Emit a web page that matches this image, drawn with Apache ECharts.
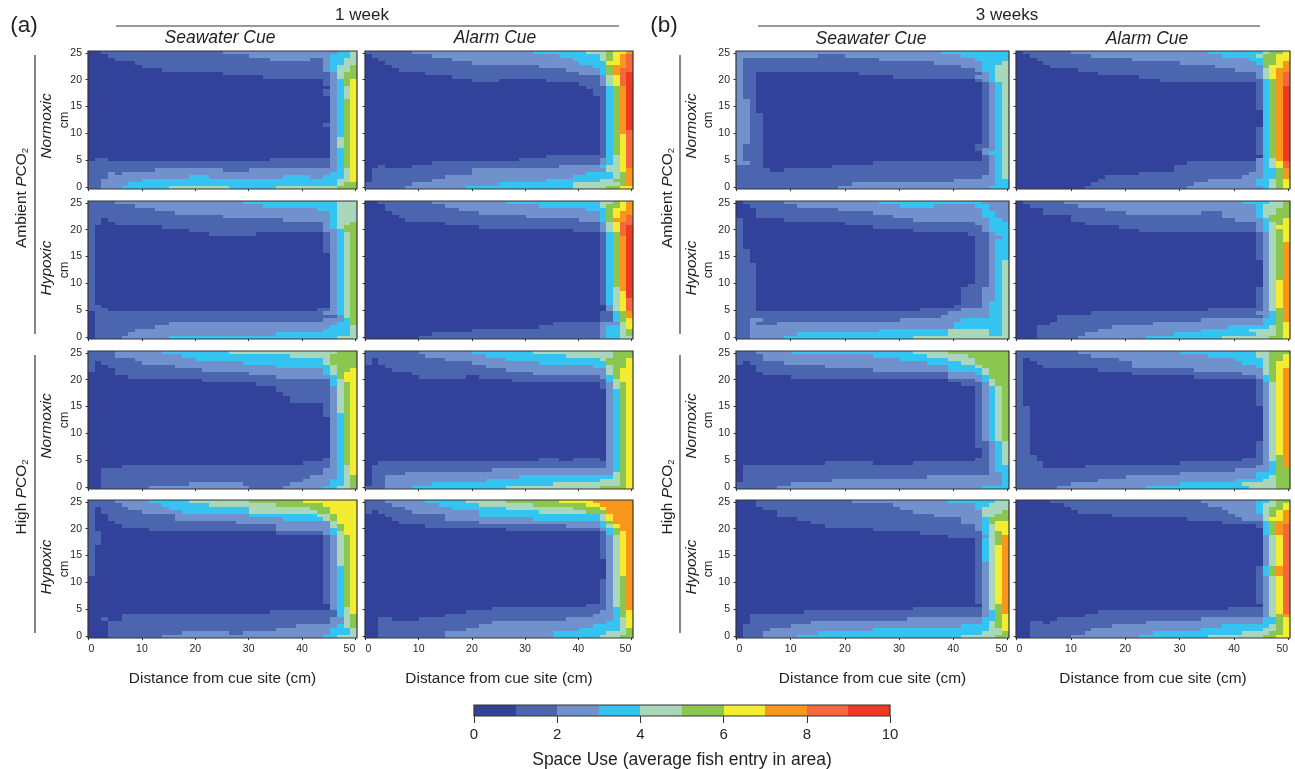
<!DOCTYPE html>
<html>
<head>
<meta charset="utf-8">
<style>html,body{margin:0;padding:0;background:#fff}#main{width:1295px;height:769px}</style>
<script src="https://cdn.jsdelivr.net/npm/echarts@6/dist/echarts.min.js"></script>
</head>
<body>
<div id="main"></div>
<script>
// each row, top to bottom: "bin:endColumn ..." runs over 40 columns, *n repeats the row
const a1Amb_Nor_Sea = ["0:2 1:20 2:37 3:39 4","0:3 1:24 2:36 3:39 4","0:4 1:27 2:33 1:35 2:36 3:38 4","0:7 1:35 2:36 3:38 4","0:8 1:35 2:36 3:37 4:39 5","0:11 1:35 2:36 3:37 4:39 5","0:20 1:36 2:37 4:38 5","0:26 1:36 2:37 4:38 5","0:35 1:36 2:37 3:38 5:39 6","0:35 1:36 2:37 3:38 5:39 6","0:36 2:37 3:38 4:39 6","0:35 1:36 2:37 3:38 4:39 6*2","0:36 2:37 3:38 4:39 6","0:36 2:37 3:38 5:39 6*7","0:35 1:36 2:37 3:38 5:39 6","0:36 2:37 3:38 5:39 6*3","0:36 2:37 4:38 5:39 6*3","0:36 2:37 3:38 5:39 6*3","0:1 1:3 0:27 1:36 2:37 3:38 5:39 6","1:36 2:37 3:38 5:39 6*2","1:10 2:20 1:24 2:37 3:38 4:39 6","1:3 2:4 1:5 2:36 3:38 4:39 6","1:3 2:15 3:18 2:29 3:33 2:35 3:38 4:39 6","1:2 2:8 3:37 4:39 6","1:2 2:6 3:37 4:38 5","1:2 2:5 3:12 4:21 3:28 4:37 5"];
const a2Amb_Nor_Alarm = ["1:7 2:25 3:33 4:36 5:37 6:39 7","0:1 1:10 2:29 3:35 4:36 5:37 6:38 7:39 8","0:2 1:13 2:31 3:35 4:36 5:37 6:38 7:39 8","0:3 1:16 2:32 3:36 6:38 7:39 8","0:4 1:26 2:34 3:36 5:37 7:39 8","0:5 1:30 2:35 3:36 5:37 7:38 8","0:9 1:32 2:35 3:36 5:37 7:38 8:39 9","0:13 1:35 2:36 4:37 6:38 8:39 9","0:16 1:20 0:27 1:35 2:36 4:37 6:38 8:39 9","0:32 1:35 2:36 4:37 6:38 8:39 9","0:33 1:36 3:37 5:38 7:39 9","0:34 1:36 3:37 5:38 7:39 9","0:34 1:36 3:37 5:38 7:39 9","0:35 1:36 3:37 5:38 7:39 9*10","0:35 1:36 3:37 5:38 7:39 8","0:35 1:36 3:37 5:38 6:39 8*6","0:27 1:36 3:37 4:38 6:39 8","0:23 1:35 2:36 3:37 4:38 6:39 8","0:10 1:35 2:36 3:37 4:38 6:39 8","0:2 1:3 0:7 1:29 2:35 3:36 4:38 6:39 8","0:1 1:16 2:36 4:38 6:39 7","0:1 1:16 2:33 3:37 4:38 5:39 7","0:1 1:12 2:31 3:37 4:38 5:39 7","0:1 1:10 2:27 3:35 4:37 5:39 7","1:7 2:20 3:31 4:38 5:39 7","1:6 2:15 3:31 4:36 5:38 6"];
const a3Amb_Hyp_Sea = ["1:4 2:23 3:37 4","1:7 2:26 3:37 4","1:10 2:34 3:37 4","1:13 2:36 3:37 4","1:20 2:36 3:37 4","1:2 0:3 1:29 2:36 3:37 4","1:2 0:4 1:35 2:36 3:37 4:39 5","1:1 0:11 1:35 2:36 3:37 4:38 5","1:1 0:15 1:35 2:37 3:38 5","1:1 0:18 1:25 0:35 1:36 2:37 3:38 4:39 5","1:1 0:35 1:36 2:37 3:38 4:39 5*5","1:1 0:36 2:37 3:38 4:39 5*15","1:2 0:36 2:37 3:38 4:39 5","1:3 0:34 1:36 2:37 3:38 4:39 5","0:1 1:35 2:37 3:38 4:39 5","0:1 1:37 2:38 4:39 5","0:1 1:35 2:38 3:39 5","0:1 1:12 2:37 3:39 5","0:1 1:10 2:36 3:39 4","0:1 1:7 2:35 3:39 4","0:1 1:6 2:28 3:39 4","0:1 1:5 2:12 3:37 4"];
const a4Amb_Hyp_Alarm = ["0:2 1:10 2:21 3:35 4:37 5:38 6:39 7","0:3 1:12 2:26 3:35 4:36 5:38 6:39 7","0:3 1:14 2:33 3:36 5:37 6:39 7","0:4 1:17 2:35 3:36 5:37 6:38 7","0:5 1:24 2:35 3:36 5:37 6:38 7:39 8","0:6 1:32 2:35 3:36 5:37 7:39 8","0:12 1:35 2:36 4:37 6:38 8","0:17 1:35 2:36 4:37 6:38 8:39 9","0:31 1:35 2:36 4:37 6:38 8:39 9","0:35 1:36 3:37 5:38 8:39 9","0:35 1:36 3:37 5:38 7:39 9*15","0:35 1:36 3:37 4:38 7:39 9","0:35 1:36 3:37 4:38 6:39 9*2","0:35 1:36 3:37 4:38 6:39 8*2","0:36 2:37 4:38 6:39 8*2","0:35 1:37 3:38 5:39 7*2","0:35 1:37 3:38 5:39 6","0:28 1:35 2:38 4:39 6","0:26 1:35 2:36 3:38 4:39 6","0:16 1:35 2:36 3:38 4:39 5","0:10 1:35 2:36 3:38 4:39 5","0:8 1:35 2:36 3:38 4"];
const a5High_Nor_Sea = ["1:4 2:11 3:21 4:37 5","1:4 2:14 3:30 4:36 5","1:7 2:16 3:35 4:36 5","1:1 0:2 1:8 2:23 3:35 4:36 5","1:1 0:3 1:13 2:28 3:36 4:37 5","1:1 0:4 1:17 2:35 3:36 4:37 5:39 6","0:4 1:24 2:35 3:36 4:37 5:38 6","0:6 1:28 2:36 3:37 5:38 6","0:17 1:36 3:37 4:38 6","0:25 1:36 3:37 4:38 5:39 6","0:28 1:36 2:37 4:38 5:39 6","0:28 1:36 2:37 4:38 5:39 6","0:29 1:36 2:37 4:38 5:39 6","0:30 1:36 2:37 4:38 5:39 6*2","0:35 1:36 2:37 4:38 5:39 6*3","0:35 1:36 2:37 3:38 5:39 6","0:36 2:37 3:38 5:39 6*12","0:35 1:36 2:37 3:38 5:39 6","0:32 1:36 2:37 3:38 5:39 6","0:5 1:36 2:37 3:38 4:39 6","0:2 1:35 2:37 3:38 4:39 6","0:2 1:35 2:37 3:38 4:39 6","0:2 1:33 2:37 3:38 4:39 5","0:2 1:32 2:36 3:38 4:39 5","0:2 1:15 2:23 1:30 2:36 3:38 4:39 5","0:2 1:9 2:24 1:29 2:35 3:37 4:39 5"];
const a6High_Nor_Alarm = ["1:8 2:16 3:25 4:37 5","1:9 2:18 3:30 4:37 5","1:1 0:2 1:12 2:21 3:35 4:36 5:39 6","1:1 0:2 1:16 2:26 3:36 5:39 6","0:3 1:18 2:34 3:36 4:37 5:39 6","0:4 1:21 2:36 4:37 5:38 6","0:7 1:25 2:36 4:37 5:38 6","0:8 1:15 0:17 1:35 2:36 3:37 5:38 6","0:22 1:36 3:37 4:38 6","0:35 1:36 2:37 4:38 5:39 6","0:35 1:36 2:37 4:38 5:39 6","0:36 2:37 3:38 5:39 6*20","0:26 1:29 0:31 1:35 0:36 2:37 3:38 5:39 6","0:2 1:36 2:37 3:38 5:39 6","0:1 1:36 2:37 3:38 5:39 6","0:1 1:19 2:37 3:38 5:39 6","0:1 1:6 2:37 4:38 5:39 6","0:1 1:3 2:23 3:37 4:38 5:39 6","0:1 1:3 2:18 3:35 4:38 5:39 6","0:1 1:3 2:10 3:28 4:38 5:39 6","1:3 2:7 3:21 4:35 5:39 6"];
const a7High_Hyp_Sea = ["1:4 2:9 3:15 4:24 5:32 6","1:5 2:11 3:18 4:28 5:35 6","1:1 0:2 1:6 2:12 3:24 4:33 5:36 6","1:1 0:2 1:8 2:14 3:24 4:34 5:36 6","1:1 0:3 1:13 2:24 3:34 4:36 5:37 6","1:1 0:3 1:13 2:29 3:35 4:36 5:37 6","1:1 0:4 1:22 2:36 4:37 6","1:1 0:5 1:28 2:36 4:37 5:38 6","1:1 0:9 1:28 2:36 3:37 5:38 6","1:2 0:28 1:35 2:36 3:37 4:38 6","1:2 0:35 1:36 2:37 4:38 5:39 6*3","1:1 0:35 1:36 2:37 4:38 5:39 6*6","1:1 0:35 1:36 2:37 3:38 5:39 6*3","0:35 1:36 2:37 3:38 5:39 6*8","0:36 2:37 3:38 5:39 6","0:36 2:37 3:38 4:39 6","0:27 1:37 3:38 4:39 6","0:5 1:37 3:38 4:39 5","0:2 1:3 0:5 1:36 2:38 4:39 5","0:3 1:36 2:38 4:39 5","0:3 1:31 2:37 3:38 4:39 5","0:3 1:28 2:36 3:39 4","0:3 1:14 2:21 1:23 2:36 3:39 4","0:3 1:11 2:35 3:37 4"];
const a8High_Hyp_Alarm = ["1:3 2:9 3:15 4:21 5:29 6:34 7","1:4 2:11 3:17 4:25 5:33 6:35 7","1:6 2:13 3:21 4:31 5:35 6:36 7","1:1 0:2 1:7 2:17 3:26 4:33 5:36 7","0:3 1:12 2:17 3:35 4:36 6:37 7","0:4 1:12 2:25 3:35 4:36 6:37 7","0:5 1:17 2:35 3:36 5:37 7","0:9 1:30 2:35 3:36 4:37 6:38 7","0:21 1:35 2:36 3:37 5:38 7","0:35 1:36 3:37 5:38 6:39 7","0:35 1:36 2:37 4:38 6:39 7*7","0:36 2:37 4:38 6:39 7*5","0:36 2:37 4:38 5:39 7","0:35 1:36 2:37 4:38 5:39 7*7","0:33 1:36 2:37 4:38 5:39 7","0:19 1:36 2:37 3:38 5:39 7","0:15 1:35 2:37 3:38 5:39 6","0:12 1:34 2:37 3:38 5:39 6","0:2 1:4 0:8 1:30 2:37 3:38 4:39 6","0:2 1:19 2:36 3:38 4:39 6","0:2 1:17 2:34 3:38 4:39 6","0:2 1:15 2:32 3:38 4:39 5","0:2 1:12 2:28 3:36 4:39 5","0:2 1:12 2:28 3:35 4:38 5"];
const b1Amb_Nor_Sea = ["2:30 3","2:12 1:16 2:33 3","2:1 1:21 2:35 3","2:1 1:29 2:36 3:39 4","2:1 1:33 2:36 3:38 4","2:1 1:35 2:36 3:38 4","2:1 1:3 0:18 1:36 2:37 3:38 4","2:1 1:3 0:23 1:35 2:37 3:38 4","2:1 1:3 0:35 1:36 2:37 3:38 4","2:1 1:3 0:36 1:37 2:38 3:39 4*5","2:2 1:3 0:36 1:37 2:38 3:39 4*4","2:2 1:4 0:36 1:37 2:38 3:39 4*9","2:1 1:4 0:35 1:37 2:38 3:39 4","2:1 1:4 0:35 1:36 2:38 3:39 4","2:1 1:4 0:36 2:37 3:39 4","2:1 1:4 0:36 1:37 2:38 3:39 4*2","2:2 1:4 0:20 1:37 2:38 3:39 4","1:4 0:14 1:37 2:38 3:39 4","1:5 0:7 1:37 2:38 3:39 4","1:37 2:38 3:39 4","1:36 2:38 3:39 4","1:32 2:38 3","1:17 2:38 3","1:15 2:37 3"];
const b2Amb_Nor_Alarm = ["0:1 1:8 2:28 3:36 4:37 5:39 6","0:2 1:11 2:30 3:35 4:36 5:38 6","0:3 1:17 2:34 3:36 5:38 6","0:4 1:24 2:35 3:36 5:38 6:39 7","0:5 1:29 2:36 5:37 6:39 7","0:9 1:32 2:36 4:37 6:38 7","0:12 1:35 2:36 4:37 6:38 7:39 8","0:18 1:35 2:36 4:37 6:38 7:39 8","0:21 1:36 3:37 5:38 7:39 8","0:35 1:36 3:37 5:38 7:39 8","0:35 1:36 3:37 5:38 7:39 9*7","0:36 3:37 5:38 7:39 9*5","0:35 1:36 3:37 5:38 7:39 9*8","0:36 3:37 5:38 7:39 9","0:35 2:36 3:37 4:38 7:39 9","0:25 1:35 2:36 3:37 4:38 6:39 8","0:23 1:35 2:36 3:37 4:38 6:39 8","0:23 1:35 2:36 3:38 5:39 7","0:18 1:34 2:36 3:38 5:39 7","0:13 1:33 2:36 3:38 5:39 7","0:12 1:28 2:35 3:37 4:38 5:39 6","0:11 1:26 2:35 3:37 4:38 5:39 6","0:10 1:25 2:36 3:37 4:38 5:39 6"];
const b3Amb_Hyp_Sea = ["0:1 1:7 2:21 3:36 2","0:2 1:9 2:24 3:29 2:35 3:37 2","0:3 1:15 2:36 3:37 2","0:3 1:20 2:36 3:38 2","0:3 1:23 2:36 3:38 2","1:1 0:7 1:26 2:37 3:39 2","1:1 0:16 1:35 2:37 3","1:1 0:20 1:36 2:37 3","1:1 0:26 1:36 2:37 3","1:1 0:34 1:37 2:38 3","1:1 0:35 1:37 2:39 3","1:1 0:35 1:37 2:38 3*3","1:2 0:35 1:37 2:38 3*3","1:2 0:35 1:37 2:38 3:39 4","1:3 0:35 1:37 2:38 3:39 4*6","1:3 0:34 1:37 2:38 3:39 4","1:3 0:33 1:36 2:38 3:39 4*4","1:3 0:33 1:36 2:37 3:39 4","1:3 0:32 1:36 2:37 3:39 4","1:3 0:27 1:33 2:37 3:39 4","1:31 2:37 3:39 4","1:30 2:37 3:39 4","1:2 2:4 1:24 2:33 3:39 4","1:2 2:3 1:6 2:32 3:39 4","1:2 2:32 3:39 4","1:2 2:21 3:31 4:37 3:39 4","1:2 2:9 3:31 4:37 3:39 4","1:2 2:7 3:26 4"];
const b4Amb_Hyp_Alarm = ["0:1 1:7 2:33 3:37 4:39 5","0:2 1:9 2:35 3:36 4:39 5","0:4 1:13 2:35 3:36 4:38 5","0:4 1:16 2:27 1:30 2:35 3:36 4:38 5","0:8 1:30 2:35 3:36 4:37 5","0:8 1:32 2:36 3:37 5:39 6","0:10 1:35 2:36 3:37 4:38 5:39 6","0:15 1:35 2:36 3:37 4:38 6","0:18 1:35 2:36 3:37 4:38 5:39 6","0:35 1:36 2:37 4:38 5:39 6*3","0:35 1:36 2:37 4:38 5:39 7*5","0:36 2:37 4:38 5:39 7*6","0:36 2:37 4:38 6:39 7*2","0:35 1:36 2:37 4:38 6:39 7*6","0:28 1:36 2:37 4:38 5:39 7","0:11 1:35 2:37 3:38 5:39 7","0:6 1:36 2:37 3:38 5:39 7","0:6 1:27 2:36 3:38 5:39 7","0:5 1:20 2:36 3:38 5:39 6","0:3 1:14 2:31 3:37 4:38 5:39 6","0:3 1:12 2:27 3:34 4:38 5:39 6","0:3 1:10 2:23 3:35 4:38 5:39 6","0:3 1:9 2:19 3:30 4:37 5:39 6"];
const b5High_Nor_Sea = ["1:3 2:8 3:26 4:31 5","1:4 2:20 3:28 4:34 5","1:4 2:24 3:31 4:35 5","1:1 0:2 1:7 2:28 3:33 4:35 5","0:3 1:13 2:31 3:35 4:36 5","0:3 1:20 2:31 3:36 4:37 5","0:4 1:31 2:35 3:36 4:37 5","0:8 1:31 2:36 3:37 5","0:31 1:35 2:36 3:37 4:38 5","0:33 1:36 2:37 4:38 5","0:35 1:36 2:37 3:38 4:39 5*16","0:35 1:37 2:38 3:39 4*2","0:36 1:37 2:38 3:39 4*3","0:35 1:37 2:38 3:39 4","0:13 1:20 0:26 1:37 2:38 3:39 4","0:1 1:37 2:38 3","0:1 1:37 2:38 3","0:1 1:37 2:39 3","0:1 1:28 2:39 3","0:1 1:14 2:39 3","1:8 2:39 3","1:6 2:36 3"];
const b6High_Nor_Alarm = ["1:9 2:24 3:35 4:37 5","1:11 2:28 3:35 4:37 5:39 6","1:1 0:2 1:15 2:32 3:36 4:37 5:39 6","1:1 0:3 1:17 2:33 3:36 4:37 5:38 6","1:1 0:4 1:17 2:35 3:36 4:37 5:38 6","1:1 0:12 1:26 2:36 4:37 5:38 6:39 7","1:1 0:17 1:33 2:36 4:37 5:38 6:39 7","1:1 0:26 1:35 2:36 3:37 5:38 6:39 7","1:1 0:35 1:36 3:37 5:38 6:39 7","1:1 0:35 1:36 2:37 4:38 6:39 7*7","1:2 0:36 2:37 4:38 6:39 7*10","1:2 0:35 1:36 2:37 4:38 6:39 7*4","1:3 0:35 1:36 2:37 4:38 5:39 7","1:3 0:33 1:36 2:37 4:38 5:39 7","1:4 0:24 1:36 2:37 3:38 5:39 7","1:4 0:10 1:35 2:37 3:38 5:39 7","1:32 2:37 3:38 5","1:24 2:35 3:38 5","1:16 2:35 3:37 4:38 5","1:12 2:32 3:36 4:38 5","1:8 2:24 3:33 4:38 5","1:6 2:19 3:34 4:38 5"];
const b7High_Hyp_Sea = ["0:3 1:17 2:31 3:38 4","0:3 1:23 2:35 3:37 4","0:4 1:24 2:35 3:36 4","0:6 1:26 2:36 4:39 5","0:6 1:29 2:36 4:38 5","0:9 1:33 2:36 3:37 5","0:11 1:33 2:36 3:37 5:38 6","0:13 1:35 2:36 3:37 4:38 6","0:20 1:35 2:36 3:37 4:38 6","0:27 1:36 3:37 4:38 5:39 6","0:31 1:36 2:37 4:38 5:39 7","0:35 1:36 3:37 4:38 5:39 7*2","0:35 1:36 3:37 4:38 6:39 7*5","0:35 1:36 2:37 4:38 6:39 7*12","0:36 2:37 4:38 5:39 7","0:26 1:36 2:37 4:38 5:39 7","0:10 1:36 2:37 3:38 5:39 7","0:2 1:36 2:37 3:38 5:39 6","0:2 1:25 2:36 3:38 5:39 6","0:2 1:11 2:36 3:37 4:38 5:39 6","0:1 1:8 2:33 3:37 4:38 5:39 6","0:1 1:5 2:20 3:37 4:39 6","0:1 1:4 2:12 3:36 4:39 5","0:1 1:4 2:9 3:33 4:38 5"];
const b8High_Hyp_Alarm = ["0:5 1:27 2:35 3:37 4:38 5","0:7 1:28 2:35 3:36 4:38 5:39 6","0:8 1:30 2:35 3:36 4:37 5:39 6","0:9 1:31 2:35 3:36 4:37 5:38 6:39 7","0:14 1:32 2:36 4:37 5:38 6:39 7","0:25 1:33 2:36 4:37 6:39 7","0:30 1:36 3:37 5:38 7","0:35 1:36 3:37 5:38 7:39 8","0:36 3:37 5:38 7:39 8*2","0:36 2:37 4:38 6:39 8*9","0:35 1:36 3:37 5:38 7:39 8*3","0:35 1:36 2:37 4:38 6:39 8*8","0:36 2:37 4:38 6:39 8","0:31 1:36 2:37 4:38 6:39 8","0:12 1:36 2:37 4:38 6:39 8","0:10 1:36 2:37 4:38 5:39 7","0:6 1:27 2:36 3:38 5:39 6","0:2 1:4 0:5 1:19 2:36 3:38 5:39 6","0:2 1:14 2:30 3:37 4:38 5:39 6","0:2 1:11 2:27 3:36 4:38 5:39 6","0:2 1:10 2:20 3:33 4:37 5:39 6","0:2 1:8 2:18 3:28 4:36 5:38 6"];

const binColors = ['#32429a','#4b66af','#7091cc','#35c4f1','#a9d7bc','#8bc650','#f4ec31','#f9971d','#f5683a','#ee3a24'];
const binEdges = [0,1,2,3,4,5,6,7,8,9,10];
const xTicks = [0,10,20,30,40,50];
const yTicks = [0,5,10,15,20,25];

const panels = [
  a1Amb_Nor_Sea, a2Amb_Nor_Alarm, b1Amb_Nor_Sea, b2Amb_Nor_Alarm,
  a3Amb_Hyp_Sea, a4Amb_Hyp_Alarm, b3Amb_Hyp_Sea, b4Amb_Hyp_Alarm,
  a5High_Nor_Sea, a6High_Nor_Alarm, b5High_Nor_Sea, b6High_Nor_Alarm,
  a7High_Hyp_Sea, a8High_Hyp_Alarm, b7High_Hyp_Sea, b8High_Hyp_Alarm
];

const COLS = 40, ROWS = 40;
const X_MIN = -0.1, X_MAX = 50.3, Y_MIN = -0.35, Y_MAX = 25.35;
const FONT = '"Liberation Sans", Arial, sans-serif';
const INK = '#231f20';

// panel boxes in the page
const colLeft = [88, 365, 736, 1016];
const colWidth = [269, 268, 273, 274];
const rowTop = [51, 201, 351, 500];
const rowHeight = 138;

// "0:3 1:20 2" -> cells in cm
function expandPanel(rows) {
  var out = [], r = 0;
  var dx = (X_MAX - X_MIN) / COLS, dy = (Y_MAX - Y_MIN) / ROWS;
  rows.forEach(function (s) {
    var parts = s.split('*');
    var n = parts[1] ? +parts[1] : 1;
    for (var k = 0; k < n; k++) {
      var start = 0;
      parts[0].split(' ').forEach(function (tok) {
        var t = tok.split(':');
        var end = t[1] === undefined ? COLS : +t[1];
        if (end > start) {
          out.push([X_MIN + start * dx, X_MIN + end * dx, Y_MAX - r * dy, Y_MAX - (r + 1) * dy, +t[0]]);
        }
        start = end;
      });
      r++;
    }
  });
  if (r !== ROWS) throw new Error('panel has ' + r + ' rows: ' + rows[0]);
  return out;
}

function renderCell(params, api) {
  var p0 = api.coord([api.value(0), api.value(2)]);
  var p1 = api.coord([api.value(1), api.value(3)]);
  var x0 = Math.round(p0[0]), y0 = Math.round(p0[1]);
  return {
    type: 'rect',
    shape: { x: x0, y: y0, width: Math.round(p1[0]) - x0, height: Math.round(p1[1]) - y0 },
    style: { fill: binColors[api.value(4)] }
  };
}

function renderFrame(params, api) {
  var cs = params.coordSys;
  return {
    type: 'rect',
    shape: { x: cs.x, y: cs.y, width: cs.width, height: cs.height },
    style: { fill: 'none', stroke: '#333', lineWidth: 1.2 }
  };
}

var grid = [], xAxis = [], yAxis = [], series = [];

var edgeLabels = {
  p0: { padding: [0, 0, 0, 6], fontFamily: FONT, fontSize: 10.5, color: INK },
  p50: { padding: [0, 12, 0, 0], fontFamily: FONT, fontSize: 10.5, color: INK }
};

panels.forEach(function (rows, idx) {
  var c = idx % 4, r = Math.floor(idx / 4);
  grid.push({ left: colLeft[c], top: rowTop[r], width: colWidth[c], height: rowHeight, outerBoundsMode: 'none' });
  xAxis.push({
    gridIndex: idx, type: 'value', min: X_MIN, max: X_MAX,
    name: r === 3 ? 'Distance from cue site (cm)' : '',
    nameLocation: 'middle', nameGap: 33, nameMoveOverlap: false,
    nameTextStyle: { fontFamily: FONT, fontSize: 15.4, color: INK },
    axisLine: { show: false }, splitLine: { show: false },
    axisTick: { show: true, length: 4, customValues: xTicks, lineStyle: { color: '#333' } },
    axisLabel: {
      show: r === 3, customValues: xTicks, margin: 6, hideOverlap: false, fontFamily: FONT, fontSize: 10.5, color: INK,
      formatter: function (v) { return v === 0 ? '{p0|0}' : v === 50 ? '{p50|50}' : String(v); },
      rich: edgeLabels
    }
  });
  yAxis.push({
    gridIndex: idx, type: 'value', min: Y_MIN, max: Y_MAX,
    name: (c === 0 || c === 2) ? 'cm' : '',
    nameLocation: 'middle', nameGap: c === 0 ? 17 : 21, nameRotate: 90, nameMoveOverlap: false,
    nameTextStyle: { fontFamily: FONT, fontSize: 12.5, color: INK },
    axisLine: { show: false }, splitLine: { show: false },
    axisTick: { show: true, length: 3, customValues: yTicks, lineStyle: { color: '#333' } },
    axisLabel: { show: c === 0 || c === 2, customValues: yTicks, margin: 6, hideOverlap: false, fontFamily: FONT, fontSize: 10.5, color: INK }
  });
  series.push({
    type: 'custom', xAxisIndex: idx, yAxisIndex: idx, renderItem: renderCell,
    data: expandPanel(rows), silent: true, animation: false, progressive: 0, clip: true
  });
  series.push({
    type: 'custom', xAxisIndex: idx, yAxisIndex: idx, renderItem: renderFrame,
    data: [[0, 0]], silent: true, animation: false, z: 5
  });
});

// colour bar: its own grid and axis
var barIdx = panels.length;
grid.push({ left: 474, top: 705, width: 416, height: 11, outerBoundsMode: 'none' });
xAxis.push({
  gridIndex: barIdx, type: 'value', min: 0, max: 10, interval: 2,
  name: 'Space Use (average fish entry in area)', nameLocation: 'middle', nameGap: 35, nameMoveOverlap: false,
  nameTextStyle: { fontFamily: FONT, fontSize: 17.5, color: INK },
  axisLine: { show: false }, splitLine: { show: false },
  axisTick: { length: 7, lineStyle: { color: '#333' } },
  axisLabel: { margin: 11, fontFamily: FONT, fontSize: 15, color: INK }
});
yAxis.push({ gridIndex: barIdx, type: 'value', min: 0, max: 1, show: false });
series.push({
  type: 'custom', xAxisIndex: barIdx, yAxisIndex: barIdx, renderItem: renderCell,
  data: binColors.map(function (col, i) { return [binEdges[i], binEdges[i + 1], 1, 0, i]; }),
  silent: true, animation: false
});
series.push({
  type: 'custom', xAxisIndex: barIdx, yAxisIndex: barIdx, renderItem: renderFrame,
  data: [[0, 0]], silent: true, animation: false, z: 5
});

function label(x, y, text, size, italic, rotate) {
  return {
    type: 'text', x: x, y: y, rotation: rotate ? Math.PI / 2 : 0, silent: true,
    style: {
      text: text, fill: INK, align: 'center', verticalAlign: 'middle',
      font: (italic ? 'italic ' : '') + size + 'px ' + FONT,
      rich: {
        i: { font: 'italic ' + size + 'px ' + FONT, fill: INK },
        s: { font: (size - 6) + 'px ' + FONT, fill: INK, verticalAlign: 'bottom', padding: [7, 0, 0, 0] }
      }
    }
  };
}
function rule(x1, y1, x2, y2) {
  return { type: 'line', silent: true, shape: { x1: x1, y1: y1, x2: x2, y2: y2 }, style: { stroke: '#333', lineWidth: 1.2 } };
}

var graphics = [
  label(24, 26, '(a)', 22.5), label(664, 26, '(b)', 22.5),
  label(362, 15, '1 week', 17), label(1007, 15, '3 weeks', 17),
  rule(116, 26, 619, 26), rule(758, 26, 1260, 26),
  label(220, 38, 'Seawater Cue', 17.5, true), label(495, 38, 'Alarm Cue', 17.5, true),
  label(871, 39, 'Seawater Cue', 17.5, true), label(1147, 39, 'Alarm Cue', 17.5, true)
];
[[35, 22, 47], [680, 668, 692]].forEach(function (g) {
  graphics.push(rule(g[0], 55, g[0], 334), rule(g[0], 355, g[0], 633));
  graphics.push(label(g[1], 198, 'Ambient {i|P}CO{s|2}', 15.5, false, true));
  graphics.push(label(g[1], 497, 'High {i|P}CO{s|2}', 15.5, false, true));
  graphics.push(label(g[2], 126, 'Normoxic', 15.5, true, true), label(g[2], 268, 'Hypoxic', 15.5, true, true));
  graphics.push(label(g[2], 426, 'Normoxic', 15.5, true, true), label(g[2], 567, 'Hypoxic', 15.5, true, true));
});

var chart = echarts.init(document.getElementById('main'), null, { renderer: 'canvas' });
chart.setOption({
  animation: false,
  backgroundColor: '#fff',
  grid: grid,
  xAxis: xAxis,
  yAxis: yAxis,
  series: series,
  graphic: graphics
});
</script>
</body>
</html>
